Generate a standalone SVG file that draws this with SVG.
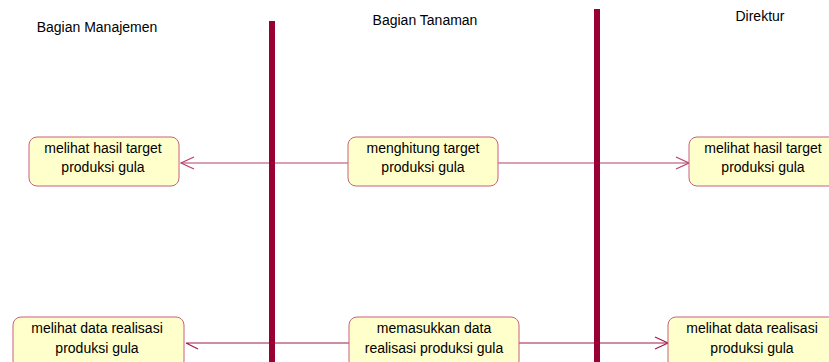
<svg xmlns="http://www.w3.org/2000/svg" width="829" height="362" viewBox="0 0 829 362">
<style>
text{font-family:"Liberation Sans",Arial,sans-serif;font-size:14px;fill:#000;text-anchor:middle}
.node rect{fill:#ffffcc;stroke:#c8607e;stroke-width:1}
.conn{stroke:#b8406a;stroke-width:1.2;fill:none}
.conn2{stroke:#a01a48;stroke-width:1.2;fill:none}
.lane{fill:#990033}
</style>
<defs>
<marker id="arr" markerWidth="16" markerHeight="14" refX="14" refY="7" orient="auto" markerUnits="userSpaceOnUse">
<path d="M1,1 L14,7 L1,13" fill="none" stroke="#b8406a" stroke-width="1.2"/>
</marker>
<marker id="arr2" markerWidth="16" markerHeight="14" refX="14" refY="7" orient="auto" markerUnits="userSpaceOnUse">
<path d="M1,1 L14,7 L1,13" fill="none" stroke="#a01a48" stroke-width="1.2"/>
</marker>
</defs>
<rect width="829" height="362" fill="#fff"/>
<g id="headers">
<text x="97" y="32">Bagian Manajemen</text>
<text x="425" y="25">Bagian Tanaman</text>
<text x="760" y="21">Direktur</text>
</g>
<g id="connectors">
<path class="conn" d="M348,163 L181,163" marker-end="url(#arr)"/>
<path class="conn" d="M498,163 L689,163" marker-end="url(#arr)"/>
<path class="conn2" d="M349,343 L186,343 M186,343 L198,349"/>
<path class="conn2" d="M519,343 L668,343" marker-end="url(#arr2)"/>
</g>
<g id="lanes">
<rect class="lane" x="269" y="21" width="6" height="341"/>
<rect class="lane" x="594" y="9" width="6" height="353"/>
</g>
<g id="n1" class="node">
<rect x="29" y="137" width="150" height="49" rx="8"/>
<text x="103" y="153">melihat hasil target</text>
<text x="103" y="172">produksi gula</text>
</g>
<g id="n2" class="node">
<rect x="348" y="137" width="150" height="49" rx="8"/>
<text x="423" y="153">menghitung target</text>
<text x="423" y="172">produksi gula</text>
</g>
<g id="n3" class="node">
<rect x="689" y="137" width="150" height="49" rx="8"/>
<text x="763" y="153">melihat hasil target</text>
<text x="763" y="172">produksi gula</text>
</g>
<g id="n4" class="node">
<rect x="13" y="317" width="171" height="52" rx="8"/>
<text x="97" y="333">melihat data realisasi</text>
<text x="97" y="353">produksi gula</text>
</g>
<g id="n5" class="node">
<rect x="349" y="317" width="170" height="52" rx="8"/>
<text x="434" y="333">memasukkan data</text>
<text x="434" y="353">realisasi produksi gula</text>
</g>
<g id="n6" class="node">
<rect x="668" y="317" width="171" height="52" rx="8"/>
<text x="752" y="333">melihat data realisasi</text>
<text x="752" y="353">produksi gula</text>
</g>
</svg>
